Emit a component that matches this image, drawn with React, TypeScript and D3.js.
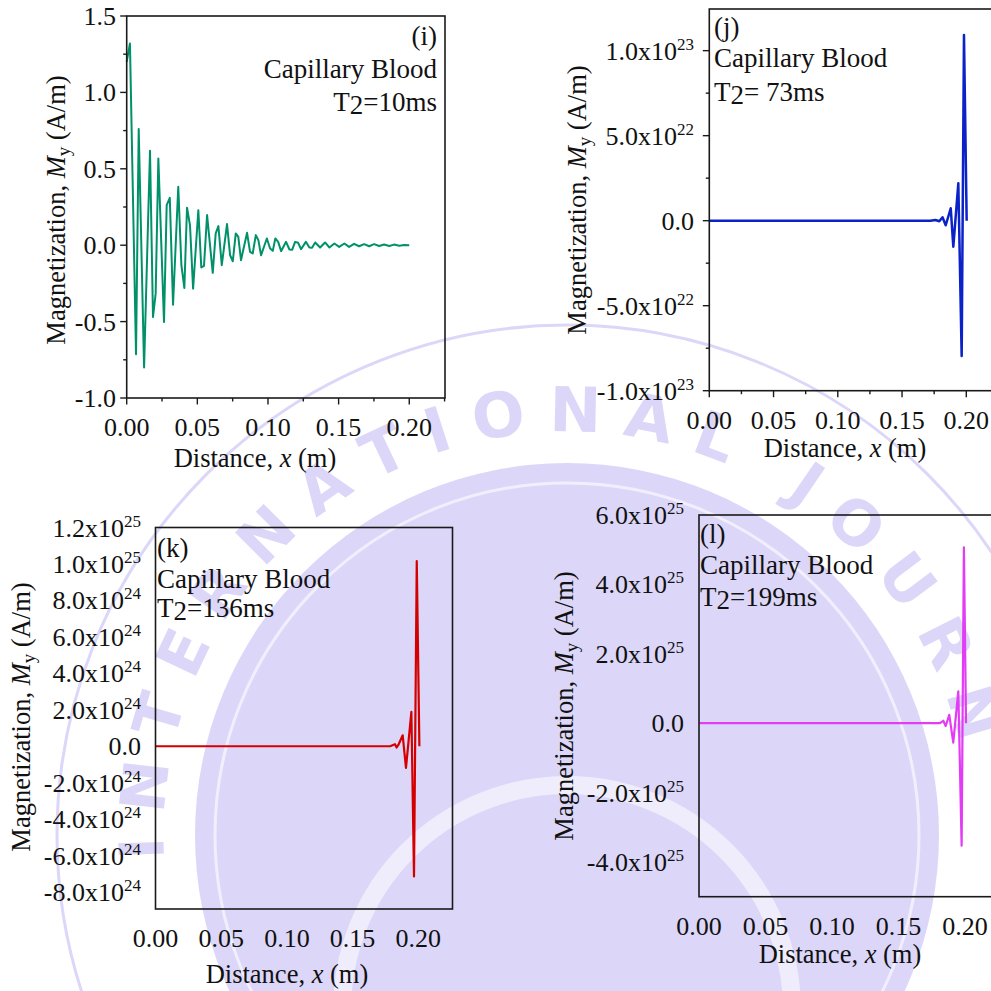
import React from "react";
import * as d3 from "d3";

// ---------------- data ----------------
const xMajorTicks = [0, 0.05, 0.1, 0.15, 0.2];
const xTickLabels = ["0.00", "0.05", "0.10", "0.15", "0.20"];
const xMinorTicks = [0.025, 0.075, 0.125, 0.175, 0.225];

// (i) T2 = 10 ms : [distance (m), My (A/m)]
const seriesT2_10: [number, number][] = [
  [0, 1.2], [0.0023, 1.32], [0.0066, -0.714], [0.0085, 0.76], [0.0123, -0.8], [0.0165, 0.618],
  [0.0186, -0.47], [0.0205, -0.317], [0.0224, 0.568], [0.0264, -0.502], [0.0283, 0.262], [0.0305, 0.31],
  [0.0328, -0.389], [0.0365, 0.382], [0.0387, -0.131], [0.0408, -0.28], [0.0427, 0.245], [0.0448, 0.131],
  [0.047, -0.284], [0.0507, 0.229], [0.0528, -0.146], [0.0547, -0.135], [0.0569, 0.197], [0.0609, -0.181],
  [0.063, 0.077], [0.0649, 0.125], [0.0673, -0.131], [0.071, 0.138], [0.0732, -0.066], [0.0751, -0.105],
  [0.0772, 0.077], [0.079, 0.054], [0.0809, -0.098], [0.0852, 0.081], [0.0873, -0.044], [0.0892, -0.054],
  [0.0914, 0.066], [0.0932, 0.033], [0.0951, -0.066], [0.0992, 0.044], [0.1015, -0.022], [0.1034, -0.037],
  [0.1052, 0.044], [0.1072, 0.022], [0.1093, -0.039], [0.1128, 0.022], [0.1152, -0.028], [0.1171, -0.03],
  [0.1192, 0.022], [0.1213, 0.016], [0.1234, -0.026], [0.1268, 0.022], [0.1293, -0.015], [0.1312, -0.016],
  [0.1334, 0.018], [0.1369, -0.015], [0.1404, 0.018], [0.1435, -0.015], [0.147, 0.011], [0.1504, -0.011],
  [0.1541, 0.011], [0.1574, -0.011], [0.161, 0.009], [0.1645, -0.007], [0.1681, 0.007], [0.1716, -0.007],
  [0.1751, 0.007], [0.1787, -0.005], [0.1822, 0.005], [0.1858, -0.005], [0.1893, 0.004], [0.1929, -0.003],
  [0.1964, 0.002], [0.2, 0],
];

// (j) T2 = 73 ms
const seriesT2_73: [number, number][] = [
  [0, 0], [0.172, 0], [0.176, 4e20], [0.179, -3e20], [0.1815, 2e21], [0.184, -2.7e21],
  [0.1879, 7.3e21], [0.1899, -1.53e22], [0.1938, 2.2e22], [0.1964, -7.96e22], [0.1982, 1.092e23], [0.2003, 0],
];

// (k) T2 = 136 ms
const seriesT2_136: [number, number][] = [
  [0, 0], [0.1708, 0], [0.1785, 0], [0.1822, 1.1e23], [0.1835, -7e22], [0.1848, 7e22],
  [0.1881, 6e23], [0.1906, -1.19e24], [0.1947, 1.88e24], [0.1967, -7.14e24], [0.1988, 1.015e25], [0.2008, 0],
];

// (l) T2 = 199 ms
const seriesT2_199: [number, number][] = [
  [0, 0], [0.1812, 0], [0.1837, 7e23], [0.1855, -8e23], [0.1882, 2.4e24], [0.1912, -5.6e24],
  [0.195, 9.2e24], [0.1975, -3.53e25], [0.1992, 5.07e25], [0.2008, 0],
];

const yTicksI = [-1.0, -0.5, 0, 0.5, 1.0, 1.5];
const yMinorI = [-0.75, -0.25, 0.25, 0.75, 1.25];
const yTicksJ = [-1e23, -5e22, 0, 5e22, 1e23];
const yMinorJ = [-7.5e22, -2.5e22, 2.5e22, 7.5e22];
const yTicksK = [-8e24, -6e24, -4e24, -2e24, 0, 2e24, 4e24, 6e24, 8e24, 1e25, 1.2e25];
const yTicksL = [-4e25, -2e25, 0, 2e25, 4e25, 6e25];

const tissue = "Capillary Blood";
const t2Labels = ["=10ms", "= 73ms", "=136ms", "=199ms"];
const panelTags = ["(i)", "(j)", "(k)", "(l)"];

const watermarkWord = "INTERNATIONAL JOURN";

// ---------------- styles ----------------
const FONT = "'Liberation Serif', 'Times New Roman', Times, serif";
const TICK_FS = 26;
const TITLE_FS = 26.5;
const ANN_FS = 27;
const WM = "#dcd7f9";

// approximate glyph widths (em) of DejaVu Sans Bold capitals, for arc spacing
const glyphW: Record<string, number> = {
  I: 0.37, N: 0.84, T: 0.68, E: 0.68, R: 0.77, A: 0.77, O: 0.85, L: 0.64, J: 0.37, U: 0.81, " ": 0.35,
};

function sciLabel(v: number, plain: boolean) {
  if (plain) return { mant: v.toFixed(1), exp: null as string | null };
  if (v === 0) return { mant: "0.0", exp: null as string | null };
  const e = Math.floor(Math.log10(Math.abs(v)) + 1e-9);
  const m = v / Math.pow(10, e);
  return { mant: m.toFixed(1) + "x10", exp: String(e) };
}

type PanelCfg = {
  left: number; right: number; top: number; bottom: number;
  xDomain: [number, number]; yDomain: [number, number];
  yTicks: number[]; yMinor: number[]; plain: boolean; ticks: boolean;
  yLabelX: number; xTitle: [number, number]; yTitle: [number, number];
  color: string; width: number; data: [number, number][];
  tag: string; t2: string; annX: number; annY: number[]; anchor: "start" | "end";
};

const panels: PanelCfg[] = [
  {
    left: 126.7, right: 445, top: 16, bottom: 398, xDomain: [0, 0.2253], yDomain: [-1, 1.5],
    yTicks: yTicksI, yMinor: yMinorI, plain: true, ticks: true, yLabelX: 116,
    xTitle: [255, 467], yTitle: [65, 210], color: "#00916a", width: 2, data: seriesT2_10,
    tag: panelTags[0], t2: t2Labels[0], annX: 437, annY: [45, 78, 111], anchor: "end",
  },
  {
    left: 709.3, right: 998.8, top: 9, bottom: 390.7, xDomain: [0, 0.2253], yDomain: [-1e23, 1.245e23],
    yTicks: yTicksJ, yMinor: yMinorJ, plain: false, ticks: true, yLabelX: 694,
    xTitle: [845, 457], yTitle: [585.5, 200], color: "#0a22c8", width: 2.5, data: seriesT2_73,
    tag: panelTags[1], t2: t2Labels[1], annX: 714, annY: [36, 67, 101], anchor: "start",
  },
  {
    left: 155.5, right: 452.5, top: 527.5, bottom: 909, xDomain: [0, 0.226], yDomain: [-8.93e24, 1.2e25],
    yTicks: yTicksK, yMinor: [], plain: false, ticks: false, yLabelX: 141,
    xTitle: [287, 983], yTitle: [29.5, 717], color: "#d40000", width: 2.2, data: seriesT2_136,
    tag: panelTags[2], t2: t2Labels[2], annX: 157, annY: [557, 588, 617], anchor: "start",
  },
  {
    left: 699, right: 998.6, top: 515, bottom: 896.7, xDomain: [0, 0.2253], yDomain: [-5e25, 6e25],
    yTicks: yTicksL, yMinor: [], plain: false, ticks: false, yLabelX: 684,
    xTitle: [840, 963], yTitle: [572.5, 706], color: "#e23cf5", width: 2.2, data: seriesT2_199,
    tag: panelTags[3], t2: t2Labels[3], annX: 700, annY: [543, 574, 606], anchor: "start",
  },
];

function Watermark() {
  const cx = 567, cy = 835, r = 425;
  const fs = 62, spacing = 25;
  const pxPerDeg = (2 * Math.PI * r) / 360;
  const letters = watermarkWord.split("");
  const placed: { ch: string; th: number }[] = [];
  let th = 178.2;
  letters.forEach((ch, i) => {
    if (i > 0) {
      const prev = letters[i - 1];
      const adv = ((glyphW[prev] || 0.7) / 2 + (glyphW[ch] || 0.7) / 2) * fs + spacing;
      th += adv / pxPerDeg;
    }
    placed.push({ ch, th });
  });
  return (
    <g>
      <circle cx={cx} cy={cy} r={372} fill={WM} />
      <circle cx={cx} cy={cy} r={352} fill="none" stroke="#ffffff" strokeWidth={3} opacity={0.6} />
      <circle cx={cx} cy={cy} r={510} fill="none" stroke={WM} strokeWidth={3} />
      <circle cx={cx} cy={1010} r={225} fill="none" stroke="#ffffff" strokeWidth={18} opacity={0.55} />
      {placed.map(({ ch, th }, i) => {
        if (ch === " ") return null;
        const rad = (th * Math.PI) / 180;
        const px = cx + r * Math.cos(rad);
        const py = cy + r * Math.sin(rad);
        return (
          <text key={i} transform={`translate(${px},${py}) rotate(${th + 90})`} textAnchor="middle"
            dominantBaseline="central" fontFamily="'DejaVu Sans', sans-serif" fontWeight="bold"
            fontSize={fs} fill={WM}>{ch}</text>
        );
      })}
    </g>
  );
}

function Panel({ c }: { c: PanelCfg }) {
  const x = d3.scaleLinear().domain(c.xDomain).range([c.left, c.right]);
  const y = d3.scaleLinear().domain(c.yDomain).range([c.bottom, c.top]);
  const line = d3.line<[number, number]>().x((d) => x(d[0])).y((d) => y(d[1]));
  const axisColor = "#1a1a1a";
  const xMinor = xMinorTicks.filter((v) => v <= c.xDomain[1] + 1e-9);
  return (
    <g fontFamily={FONT} fill="#111">
      <path d={line(c.data) || ""} fill="none" stroke={c.color} strokeWidth={c.width} strokeLinejoin="round" />
      <rect x={c.left} y={c.top} width={c.right - c.left} height={c.bottom - c.top} fill="none"
        stroke={axisColor} strokeWidth={1.6} />
      {c.ticks && (
        <g stroke={axisColor} strokeWidth={1.4}>
          {c.yTicks.map((v) => <line key={"ym" + v} x1={c.left - 6.5} x2={c.left} y1={y(v)} y2={y(v)} />)}
          {c.yMinor.map((v) => <line key={"yn" + v} x1={c.left - 3.5} x2={c.left} y1={y(v)} y2={y(v)} />)}
          {xMajorTicks.map((v) => <line key={"xm" + v} x1={x(v)} x2={x(v)} y1={c.bottom} y2={c.bottom + 6.5} />)}
          {xMinor.map((v) => <line key={"xn" + v} x1={x(v)} x2={x(v)} y1={c.bottom} y2={c.bottom + 3.5} />)}
        </g>
      )}
      {c.yTicks.map((v) => {
        const l = sciLabel(v, c.plain);
        return (
          <text key={"yl" + v} x={c.yLabelX} y={y(v) + 9} textAnchor="end" fontSize={TICK_FS}>
            {l.mant}
            {l.exp && <tspan dy={-10} fontSize={17}>{l.exp}</tspan>}
          </text>
        );
      })}
      {xMajorTicks.map((v, i) => (
        <text key={"xl" + v} x={x(v)} y={c.bottom + 38} textAnchor="middle" fontSize={TICK_FS}>
          {xTickLabels[i]}
        </text>
      ))}
      <text x={c.xTitle[0]} y={c.xTitle[1]} textAnchor="middle" fontSize={TITLE_FS}>
        Distance, <tspan fontStyle="italic">x</tspan> (m)
      </text>
      <text transform={`translate(${c.yTitle[0]},${c.yTitle[1]}) rotate(-90)`} textAnchor="middle" fontSize={TITLE_FS}>
        Magnetization, <tspan fontStyle="italic">M</tspan>
        <tspan fontSize={19} dy={5}>y</tspan>
        <tspan dy={-5}> (A/m)</tspan>
      </text>
      <g fontSize={ANN_FS} textAnchor={c.anchor}>
        <text x={c.annX} y={c.annY[0]}>{c.tag}</text>
        <text x={c.annX} y={c.annY[1]}>{tissue}</text>
        <text x={c.annX} y={c.annY[2]}>
          T<tspan dy={3}>2</tspan><tspan dy={-3}>{c.t2}</tspan>
        </text>
      </g>
    </g>
  );
}

export default function App() {
  return (
    <svg width={991} height={991} style={{ position: "absolute", left: 0, top: 0, background: "#fff" }}>
      <rect x={0} y={0} width={991} height={991} fill="#fff" />
      <Watermark />
      {panels.map((c, i) => <Panel key={i} c={c} />)}
    </svg>
  );
}
